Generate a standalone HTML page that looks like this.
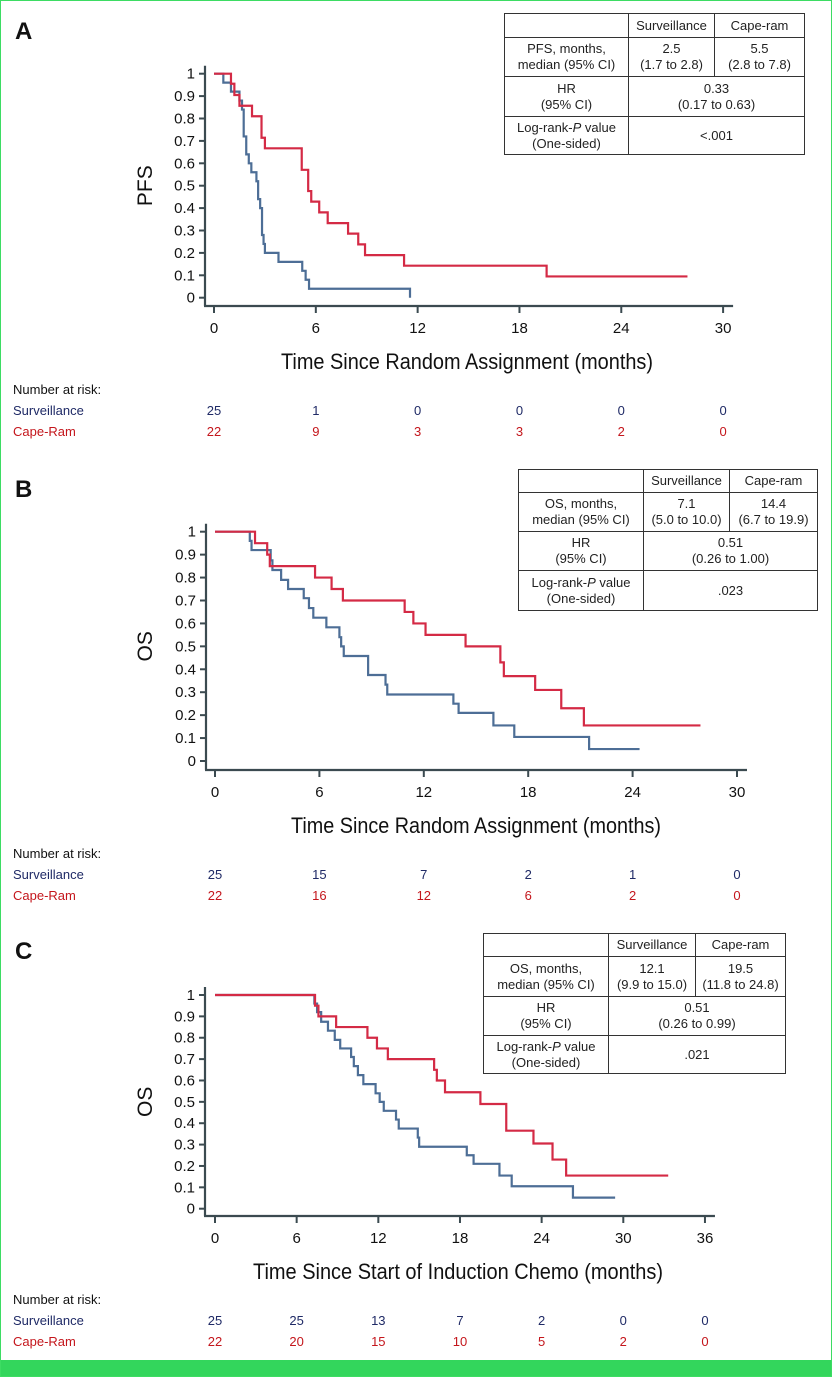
<!DOCTYPE html>
<html><head><meta charset="utf-8">
<style>
html,body{margin:0;padding:0;background:#fff}
#page{position:relative;width:830px;height:1375px;border:1px solid #3ddc63;overflow:hidden;font-family:"Liberation Sans",sans-serif}
svg{position:absolute;left:0;top:0}
table.st{position:absolute;border-collapse:collapse;font-family:"Liberation Sans",sans-serif;font-size:13px;color:#222;line-height:16px}
table.st td{border:1.5px solid #333;text-align:center;padding:0}
.bar{position:absolute;left:0;top:1359px;width:830px;height:18px;background:#33d65c}
</style></head><body>
<div id="page">
<svg id="chart" width="832" height="1377"></svg>

<table class="st" style="left:503px;top:12px;width:301px">
<tr style="height:24px"><td style="width:123px"></td><td style="width:85px">Surveillance</td><td>Cape-ram</td></tr>
<tr style="height:39px"><td>PFS, months,<br>median (95% CI)</td><td>2.5<br>(1.7 to 2.8)</td><td>5.5<br>(2.8 to 7.8)</td></tr>
<tr style="height:40px"><td>HR<br>(95% CI)</td><td colspan="2">0.33<br>(0.17 to 0.63)</td></tr>
<tr style="height:38px"><td>Log-rank-<i>P</i> value<br>(One-sided)</td><td colspan="2">&lt;.001</td></tr>
</table>

<table class="st" style="left:517px;top:468px;width:300px">
<tr style="height:23px"><td style="width:124px"></td><td style="width:85px">Surveillance</td><td>Cape-ram</td></tr>
<tr style="height:39px"><td>OS, months,<br>median (95% CI)</td><td>7.1<br>(5.0 to 10.0)</td><td>14.4<br>(6.7 to 19.9)</td></tr>
<tr style="height:39px"><td>HR<br>(95% CI)</td><td colspan="2">0.51<br>(0.26 to 1.00)</td></tr>
<tr style="height:40px"><td>Log-rank-<i>P</i> value<br>(One-sided)</td><td colspan="2">.023</td></tr>
</table>

<table class="st" style="left:482px;top:932px;width:303px">
<tr style="height:23px"><td style="width:124px"></td><td style="width:86px">Surveillance</td><td>Cape-ram</td></tr>
<tr style="height:40px"><td>OS, months,<br>median (95% CI)</td><td>12.1<br>(9.9 to 15.0)</td><td>19.5<br>(11.8 to 24.8)</td></tr>
<tr style="height:39px"><td>HR<br>(95% CI)</td><td colspan="2">0.51<br>(0.26 to 0.99)</td></tr>
<tr style="height:38px"><td>Log-rank-<i>P</i> value<br>(One-sided)</td><td colspan="2">.021</td></tr>
</table>
<div class="bar"></div>
</div>
<script>
const yTicks = [0,0.1,0.2,0.3,0.4,0.5,0.6,0.7,0.8,0.9,1];
const xTicksA = [0,6,12,18,24,30];
const xTicksB = [0,6,12,18,24,30];
const xTicksC = [0,6,12,18,24,30,36];

const aRedT = [1.0,1.2,1.5,2.24,2.8,3.0,5.17,5.55,5.73,6.2,6.7,7.9,8.5,8.9,11.2,19.6];
const aRedS = [0.955,0.905,0.857,0.81,0.714,0.667,0.571,0.476,0.429,0.381,0.333,0.286,0.238,0.19,0.143,0.095];
const aRedEnd = 27.9;
const aBlueT = [0.55,1.0,1.5,1.65,1.75,1.9,2.05,2.2,2.5,2.6,2.72,2.83,2.92,3.0,3.8,5.2,5.4,5.6,11.55];
const aBlueS = [0.96,0.92,0.88,0.84,0.72,0.64,0.60,0.56,0.52,0.44,0.40,0.28,0.24,0.20,0.16,0.12,0.08,0.04,0.0];
const aBlueEnd = 11.55;

const bRedT = [2.3,3.0,3.15,5.75,6.7,7.35,10.9,11.4,12.1,14.4,16.4,16.6,18.4,19.9,21.2];
const bRedS = [0.95,0.90,0.85,0.80,0.75,0.70,0.65,0.60,0.55,0.50,0.43,0.37,0.31,0.23,0.155];
const bRedEnd = 27.9;
const bBlueT = [2.0,2.1,3.2,3.3,3.8,4.2,5.1,5.4,5.65,6.4,7.15,7.25,7.4,8.8,9.8,9.9,13.7,14.0,16.0,17.2,21.5];
const bBlueS = [0.96,0.92,0.875,0.833,0.79,0.75,0.71,0.667,0.625,0.583,0.54,0.50,0.458,0.375,0.333,0.29,0.25,0.21,0.155,0.105,0.052];
const bBlueEnd = 24.4;

const cRedT = [7.35,7.6,8.9,11.2,11.9,12.7,16.1,16.3,16.9,19.5,21.4,23.4,24.8,25.8];
const cRedS = [0.95,0.90,0.85,0.80,0.75,0.70,0.65,0.60,0.545,0.49,0.365,0.305,0.23,0.155];
const cRedEnd = 33.3;
const cBlueT = [7.3,7.5,7.8,8.3,8.8,9.2,10.0,10.2,10.5,10.9,11.8,12.1,12.4,13.3,13.5,14.9,15.0,18.5,19.0,20.9,21.8,26.3];
const cBlueS = [0.96,0.92,0.875,0.833,0.79,0.75,0.71,0.667,0.625,0.583,0.54,0.50,0.458,0.417,0.375,0.333,0.29,0.25,0.21,0.155,0.105,0.052];
const cBlueEnd = 29.4;

const riskSurvA = [25,1,0,0,0,0];
const riskCapeA = [22,9,3,3,2,0];
const riskSurvB = [25,15,7,2,1,0];
const riskCapeB = [22,16,12,6,2,0];
const riskSurvC = [25,25,13,7,2,0,0];
const riskCapeC = [22,20,15,10,5,2,0];

const svg = document.getElementById('chart');
const NS = 'http://www.w3.org/2000/svg';
const AX = '#3b4a50', RED = '#d42a45', BLUE = '#4d6e96', NAVY = '#1f2a66', DRED = '#c4161c';
function mk(tag, attrs, text){
  const e = document.createElementNS(NS, tag);
  for (const k in attrs) e.setAttribute(k, attrs[k]);
  if (text !== undefined) e.textContent = text;
  svg.appendChild(e);
  return e;
}
function panel(p){
  const xs = t => p.x0 + t * p.pxm;
  const ys = s => p.y0 - s * (p.y0 - p.y1);
  let e = mk('text', {x:14, y:p.letterY, 'font-size':24, 'font-weight':'bold', fill:'#111'}, p.letter);
  
  
  e = mk('line', {x1:p.yax, y1:p.y1-8, x2:p.yax, y2:p.xax, stroke:AX, 'stroke-width':2.2});
  
  
  const xmax = p.xt[p.xt.length-1];
  e = mk('line', {x1:p.yax-1, y1:p.xax, x2:xs(xmax)+10, y2:p.xax, stroke:AX, 'stroke-width':2.2});
  
  
  yTicks.forEach(v => {
    const y = ys(v);
    let t = mk('line', {x1:p.yax-6, y1:y, x2:p.yax, y2:y, stroke:AX, 'stroke-width':2});
    
    
    t = mk('text', {x:p.yax-10, y:y+5, 'font-size':15, 'text-anchor':'end', fill:'#111'}, String(v));
    
    
  });
  p.xt.forEach(v => {
    const x = xs(v);
    let t = mk('line', {x1:x, y1:p.xax, x2:x, y2:p.xax+7, stroke:AX, 'stroke-width':2});
    
    
    t = mk('text', {x:x, y:p.xax+27, 'font-size':15, 'text-anchor':'middle', fill:'#111'}, String(v));
    
    
  });
  e = mk('text', {x:p.titleX, y:p.xax+63, 'font-size':22, 'text-anchor':'middle', fill:'#111', textLength:p.titleW, lengthAdjust:'spacingAndGlyphs'}, p.title);
  
  
  const cy = (p.y0 + p.y1)/2;
  e = mk('text', {x:151, y:cy, 'font-size':21, 'text-anchor':'middle', fill:'#111', transform:'rotate(-90 151 '+cy+')'}, p.ylab);
  
  
  function curve(T, S, end, col, name){
    let d = 'M' + xs(0) + ' ' + ys(1);
    for (let i=0;i<T.length;i++){ d += ' H' + xs(T[i]) + ' V' + ys(S[i]); }
    d += ' H' + xs(end);
    const c = mk('path', {d:d, fill:'none', stroke:col, 'stroke-width':2.2});
    
    
  }
  curve(p.bT, p.bS, p.bE, BLUE, 'surveillance-curve-' + p.key);
  curve(p.rT, p.rS, p.rE, RED, 'cape-ram-curve-' + p.key);
  const ry = p.xax + 88;
  e = mk('text', {x:12, y:ry, 'font-size':13, fill:'#111'}, 'Number at risk:');
  
  
  e = mk('text', {x:12, y:ry+21, 'font-size':13, fill:NAVY}, 'Surveillance');
  
  
  e = mk('text', {x:12, y:ry+42, 'font-size':13, fill:DRED}, 'Cape-Ram');
  
  
  p.xt.forEach((v,i) => {
    let t = mk('text', {x:xs(v), y:ry+21, 'font-size':13, 'text-anchor':'middle', fill:NAVY}, String(p.rs[i]));
    
    
    t = mk('text', {x:xs(v), y:ry+42, 'font-size':13, 'text-anchor':'middle', fill:DRED}, String(p.rc[i]));
    
    
  });
}
panel({key:'a', letter:'A', letterY:38, x0:213, pxm:16.97, y1:72.7, y0:296.7, yax:204, xax:305, xt:xTicksA,
  title:'Time Since Random Assignment (months)', titleX:466, titleW:372, ylab:'PFS',
  rT:aRedT, rS:aRedS, rE:aRedEnd, bT:aBlueT, bS:aBlueS, bE:aBlueEnd, rs:riskSurvA, rc:riskCapeA});
panel({key:'b', letter:'B', letterY:496, x0:214, pxm:17.4, y1:530.7, y0:760, yax:205, xax:769, xt:xTicksB,
  title:'Time Since Random Assignment (months)', titleX:475, titleW:370, ylab:'OS',
  rT:bRedT, rS:bRedS, rE:bRedEnd, bT:bBlueT, bS:bBlueS, bE:bBlueEnd, rs:riskSurvB, rc:riskCapeB});
panel({key:'c', letter:'C', letterY:958, x0:214, pxm:13.61, y1:994, y0:1207.7, yax:204, xax:1215, xt:xTicksC,
  title:'Time Since Start of Induction Chemo (months)', titleX:457, titleW:410, ylab:'OS',
  rT:cRedT, rS:cRedS, rE:cRedEnd, bT:cBlueT, bS:cBlueS, bE:cBlueEnd, rs:riskSurvC, rc:riskCapeC});
</script>
</body></html>
